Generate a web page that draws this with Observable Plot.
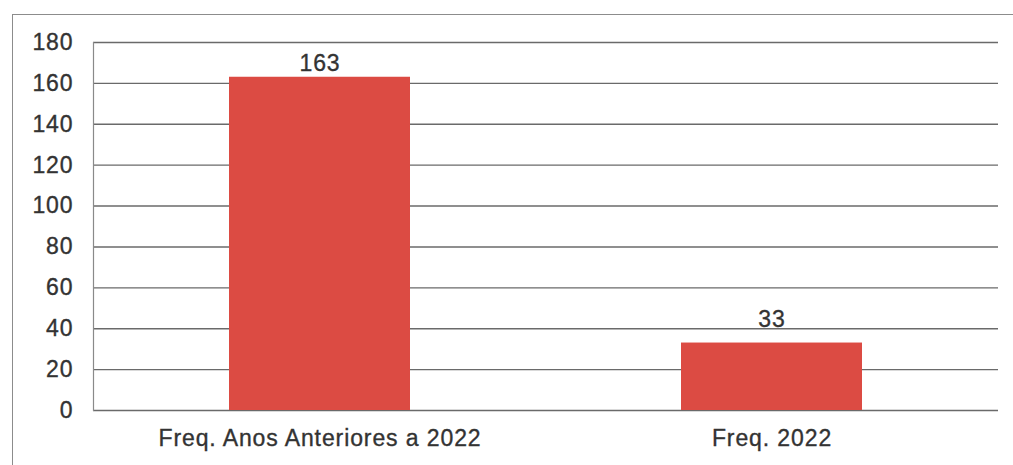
<!DOCTYPE html>
<html>
<head>
<meta charset="utf-8">
<script src="https://cdn.jsdelivr.net/npm/d3@7"></script>
<script src="https://cdn.jsdelivr.net/npm/@observablehq/plot@0.6"></script>
<style>
  html, body { margin: 0; padding: 0; background: #fff; }
  #wrap { position: relative; width: 1013px; height: 465px; overflow: hidden; }
  #frame { position: absolute; left: 12px; top: 14px; width: 1010px; height: 460px;
           border-left: 1.5px solid #8c8c8c; border-top: 1.5px solid #8c8c8c; }
  #chart { position: absolute; left: 0; top: 0; }
  #chart svg text { letter-spacing: 0.9px; stroke: #333; stroke-width: 0.35px; }
</style>
</head>
<body>
<div id="wrap"><div id="frame"></div><div id="chart"></div></div>
<script>
const categories = ["Freq. Anos Anteriores a 2022", "Freq. 2022"];
const values = [163, 33];
const yTicks = [0, 20, 40, 60, 80, 100, 120, 140, 160, 180];

const data = categories.map((c, i) => ({cat: c, val: values[i]}));

const chart = Plot.plot({
  width: 1013,
  height: 465,
  marginLeft: 93,
  marginRight: 15,
  marginTop: 42,
  marginBottom: 55,
  x: {domain: categories, paddingInner: 0.6, paddingOuter: 0.3, label: null},
  y: {domain: [0, 180], label: null},
  style: {fontFamily: "'Liberation Sans', Arial, sans-serif", fontSize: "23px", color: "#333", background: "transparent"},
  marks: [
    Plot.ruleY(yTicks, {stroke: "#6a6a6a", strokeWidth: 1.4}),
    Plot.frame({anchor: "left", stroke: "#8a8a8a", strokeWidth: 1.2}),
    Plot.barY(data, {x: "cat", y: "val", fill: "#dc4b43"}),
    Plot.text(data, {filter: d => d.val > 100, x: "cat", y: "val", text: d => String(d.val), dy: -6, lineAnchor: "bottom", fill: "#333", fontSize: 23}),
    Plot.text(data, {filter: d => d.val <= 100, x: "cat", y: "val", text: d => String(d.val), dy: -16, lineAnchor: "bottom", fill: "#333", fontSize: 23}),
    Plot.axisY({ticks: yTicks, tickSize: 0, tickPadding: 20, label: null, fontSize: 23, fill: "#333"}),
    Plot.axisX({tickSize: 0, tickPadding: 19, label: null, fontSize: 23, fill: "#333"})
  ]
});
document.getElementById("chart").appendChild(chart);
</script>
</body>
</html>
